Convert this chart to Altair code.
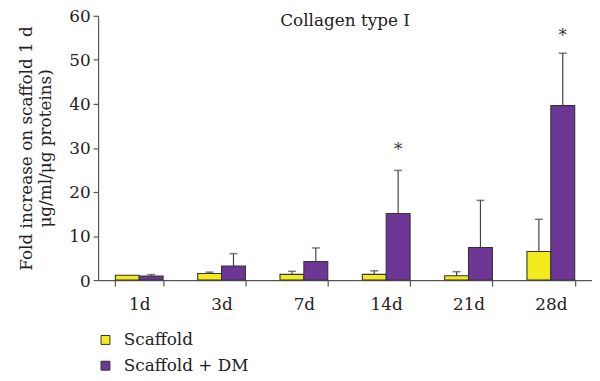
import altair as alt
import pandas as pd

days = ["1d", "3d", "7d", "14d", "21d", "28d"]
groups = ["Scaffold", "Scaffold + DM"]
scaffold = [1.1, 1.5, 1.3, 1.3, 1.0, 6.5]
scaffold_sd = [0.0, 0.3, 0.7, 0.8, 0.9, 7.3]
dm = [0.9, 3.2, 4.2, 15.1, 7.4, 39.6]
dm_sd = [0.35, 2.8, 3.1, 9.8, 10.7, 11.9]
star_days = ["14d", "28d"]
star_y = [29.5, 55.5]
title_text = ["Collagen type I"]

rows = []
for i, d in enumerate(days):
    rows.append({"day": d, "group": groups[0], "value": scaffold[i], "top": scaffold[i] + scaffold_sd[i], "sd": scaffold_sd[i]})
    rows.append({"day": d, "group": groups[1], "value": dm[i], "top": dm[i] + dm_sd[i], "sd": dm_sd[i]})
df = pd.DataFrame(rows)
stars = pd.DataFrame({"day": star_days, "group": [groups[1]] * len(star_days), "y": star_y, "t": ["*"] * len(star_days)})
titles = pd.DataFrame({"t": title_text})

FONT = "DejaVu Serif"
AX = "#555555"
TXT = "#222222"

x = alt.X("day:N", sort=days, title=None,
          scale=alt.Scale(paddingInner=0.42, paddingOuter=0.21),
          axis=alt.Axis(labelAngle=0, labelFont=FONT, labelFontSize=17, labelColor=TXT,
                        domainColor=AX, tickColor=AX, tickBand="extent", tickSize=6,
                        labelPadding=11))
xo = alt.XOffset("group:N", sort=groups, scale=alt.Scale(paddingInner=0, paddingOuter=0))
y_scale = alt.Scale(domain=[0, 60], nice=False)

bars = alt.Chart(df).mark_bar(stroke="#333333", strokeWidth=1.1).encode(
    x=x,
    xOffset=xo,
    y=alt.Y("value:Q", scale=y_scale,
            title=["Fold increase on scaffold 1 d", "μg/ml/μg proteins)"],
            axis=alt.Axis(values=[0, 10, 20, 30, 40, 50, 60], grid=False,
                          labelFont=FONT, labelFontSize=17, labelColor=TXT, labelOffset=1,
                          titleFont=FONT, titleFontSize=17, titleFontWeight="normal",
                          titleColor=TXT, titleLineHeight=20, domainColor=AX, tickColor=AX, tickSize=5,
                          titlePadding=14, labelPadding=3)),
    color=alt.Color("group:N", sort=groups,
                    scale=alt.Scale(domain=groups, range=["#f2ea1c", "#6e3795"]),
                    legend=alt.Legend(title=None, orient="none", legendX=-1, legendY=319,
                                      symbolType="square", symbolSize=81,
                                      symbolStrokeColor="#333", symbolStrokeWidth=1,
                                      labelFont=FONT, labelFontSize=17, labelColor=TXT,
                                      labelOffset=10, rowPadding=8, padding=0)),
)

err = df[df["sd"] > 0]
rules = alt.Chart(err).mark_rule(color="#444444", strokeWidth=1.2).encode(
    x=alt.X("day:N", sort=days), xOffset=xo,
    y=alt.Y("value:Q", scale=y_scale), y2="top:Q")
caps = alt.Chart(err).mark_tick(color="#444444", thickness=1.5, size=8, orient="horizontal").encode(
    x=alt.X("day:N", sort=days), xOffset=xo,
    y=alt.Y("top:Q", scale=y_scale))
star_text = alt.Chart(stars).mark_text(font=FONT, fontSize=17, color="#333", baseline="middle").encode(
    x=alt.X("day:N", sort=days), xOffset=alt.XOffset("group:N", sort=groups),
    y=alt.Y("y:Q", scale=y_scale), text="t:N")
title_mark = alt.Chart(titles).mark_text(font=FONT, fontSize=17, color=TXT, baseline="middle",
                                         align="center").encode(
    x=alt.value(249.5), y=alt.value(5), text="t:N")

chart = alt.layer(bars, rules, caps, star_text, title_mark).properties(
    width=499, height=267,
    autosize=alt.AutoSizeParams(type="none"),
    padding={"left": 91, "top": 6, "right": 0, "bottom": 92},
).configure_view(stroke=None).configure_axis(domainWidth=1.2, tickWidth=1.2)

chart.save("out.html", embed_options={"renderer": "svg", "actions": False})
